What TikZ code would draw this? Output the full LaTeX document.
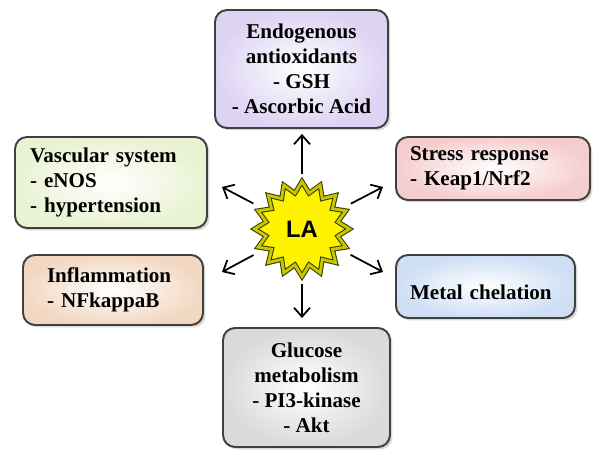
\documentclass[tikz,border=0pt]{standalone}
\usepackage{fontspec}
\setmainfont{Liberation Serif}
\newfontfamily\lafont{Liberation Sans}
\usetikzlibrary{shapes.geometric}
\usetikzlibrary{shadows}
\usetikzlibrary{arrows.meta}

\definecolor{antiox}{HTML}{DDD4F3}
\definecolor{vasc}{HTML}{E9F2D2}
\definecolor{infl}{HTML}{F2D8C2}
\definecolor{stress}{HTML}{F5CDCD}
\definecolor{metal}{HTML}{CEDEF5}
\definecolor{gluc}{HTML}{DADADA}
\definecolor{starline}{HTML}{3C3C08}
\definecolor{starbevel}{HTML}{C8C800}

\begin{document}
\begin{tikzpicture}[x=0.02cm, y=-0.02cm, font=\fontsize{12}{14.2}\selectfont\bfseries,
  topic/.style={draw=black!75, line width=1.1pt, rounded corners=0.24cm, shading=radial,
    inner color=white, drop shadow={opacity=0.3, shadow xshift=0.05cm, shadow yshift=-0.05cm}},
  arr/.style={line width=1pt, shorten <=1.1cm, -{Straight Barb[length=1.8mm,width=3.2mm]}}]
  \useasboundingbox (0,0) rectangle (600,459);

  % boxes round the star
  \node (AO) [topic, outer color=antiox, minimum width=3.46cm, minimum height=2.36cm, align=center]
    at (301.5,69) {Endogenous\\antioxidants\\- GSH\\- Ascorbic Acid};
  \node (VS) [topic, outer color=vasc, minimum height=1.82cm, inner xsep=0.3cm, text width=3.24cm, align=left]
    at (111,182.5) {Vascular system\\- eNOS\\- hypertension};
  \node (IF) [topic, outer color=infl, minimum height=1.4cm, inner xsep=0.48cm, text width=2.64cm, align=left]
    at (113,290) {Inflammation\\- NFkappaB};
  \node (SR) [topic, outer color=stress, minimum height=1.26cm, inner xsep=0.28cm, text width=3.32cm, align=left]
    at (493,168.5) {Stress response\\- Keap1/Nrf2};
  \node (MC) [topic, outer color=metal, minimum height=1.26cm, inner xsep=0.28cm, text width=3.02cm,
    text height=0.53cm, align=left] at (485.5,286.5) {Metal chelation};
  \node (GM) [topic, outer color=gluc, minimum width=3.34cm, minimum height=2.38cm, align=center]
    at (306.5,387.5) {Glucose\\metabolism\\- PI3-kinase\\- Akt};

  % the star
  \node (LA) [star, star points=16, star point ratio=1.3, minimum size=1.9cm, inner sep=0pt,
    fill=yellow, draw=starline, line width=0.6pt, double=starbevel, double distance=1.6pt,
    drop shadow={opacity=0.25, shadow xshift=0.04cm, shadow yshift=-0.04cm},
    font=\lafont\fontsize{13.5}{15}\selectfont\bfseries]
    at (302,229) {LA};

  \coordinate (ul) at (222,187);
  \coordinate (ur) at (383,187);
  \coordinate (ll) at (222,272);
  \coordinate (lr) at (383,272);

  \draw[arr, shorten >=0.1cm] (LA.center) -- (AO.south -| LA.center);
  \draw[arr, shorten >=0.18cm] (LA.center) -- (GM.north -| LA.center);
  \draw[arr] (LA.center) -- (ul);
  \draw[arr] (LA.center) -- (ur);
  \draw[arr] (LA.center) -- (ll);
  \draw[arr] (LA.center) -- (lr);
\end{tikzpicture}
\end{document}
